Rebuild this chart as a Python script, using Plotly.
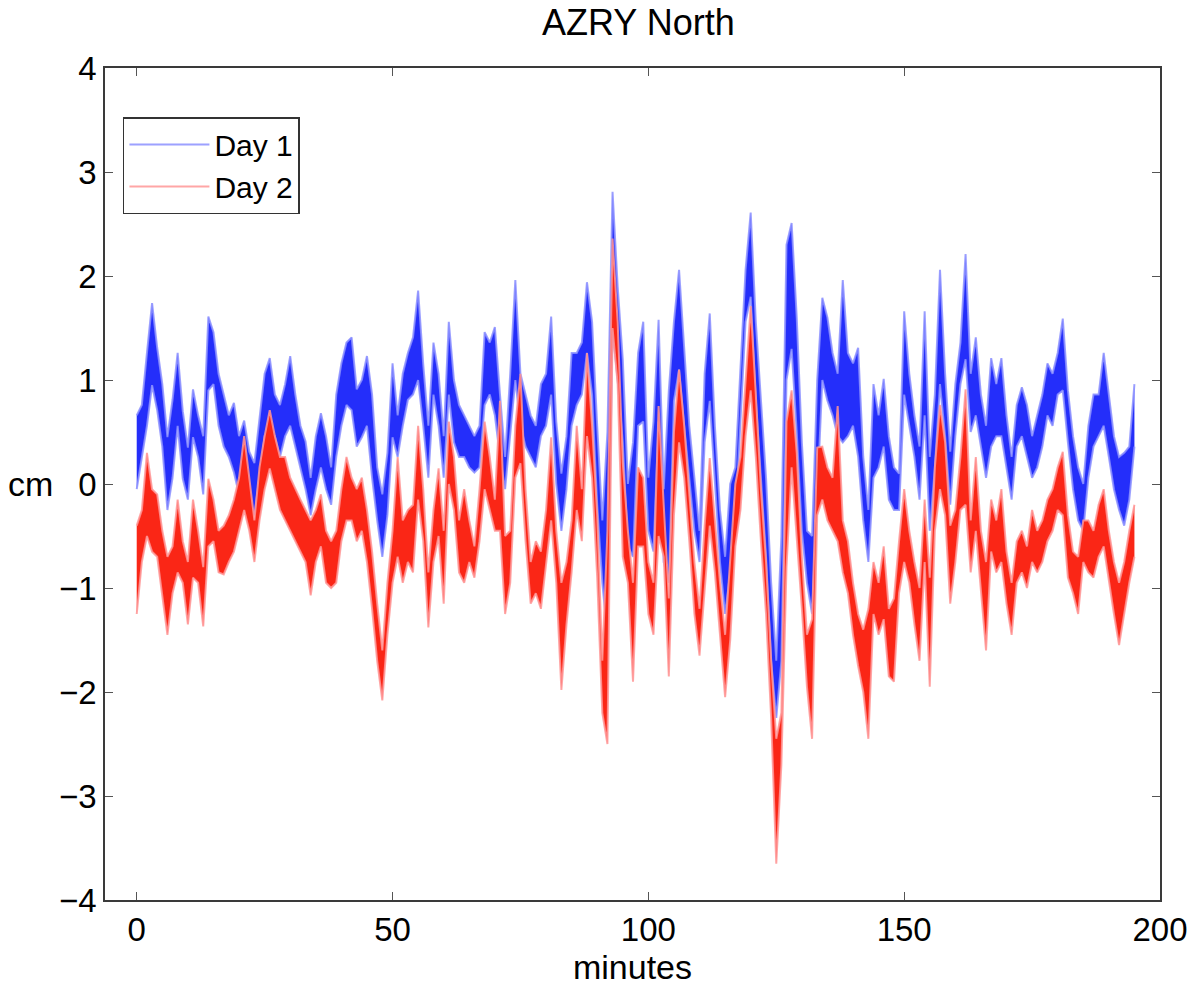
import plotly.graph_objects as go

minutes = list(range(196))

day1_hi = [0.66, 0.76, 1.26, 1.74, 1.31, 0.96, 0.45, 0.81, 1.26, 0.70,
           0.35, 0.91, 0.66, 0.46, 1.61, 1.46, 1.06, 0.86, 0.66, 0.78,
           0.46, 0.61, 0.31, 0.20, 0.66, 1.06, 1.21, 0.86, 0.76, 0.96,
           1.23, 0.86, 0.56, 0.41, 0.06, 0.46, 0.68, 0.46, 0.16, 0.86,
           1.16, 1.36, 1.41, 0.91, 1.00, 1.23, 0.86, 0.16, -0.10, 0.30,
           1.16, 0.66, 1.06, 1.26, 1.41, 1.86, 1.15, 0.56, 1.36, 1.06,
           0.46, 1.56, 1.00, 0.76, 0.66, 0.56, 0.46, 0.56, 1.46, 1.36,
           1.51, 0.86, 0.26, 1.06, 1.96, 1.06, 0.86, 0.66, 0.56, 0.96,
           1.06, 1.61, 0.60, 0.10, 0.46, 1.26, 1.26, 1.36, 1.94, 1.56,
           0.56, -0.35, 0.50, 2.81, 1.90, 1.20, 0.00, 0.40, 1.26, 1.56,
           0.06, 0.60, 1.58, -0.05, 0.90, 1.56, 2.06, 1.26, 0.56, 0.06,
           -0.45, 1.06, 1.64, 0.56, -0.25, -0.70, 0.00, 0.16, 1.06, 2.06,
           2.61, 1.56, 0.81, 0.06, -0.95, -1.70, -0.50, 2.30, 2.51, 1.60,
           0.40, -0.45, -0.50, 1.00, 1.79, 1.60, 1.26, 1.06, 1.96, 1.26,
           1.16, 1.31, 0.26, -0.25, 0.96, 0.66, 1.01, 0.46, 0.16, 0.10,
           1.66, 1.06, 0.66, 0.36, 1.66, 0.26, 0.86, 2.06, 1.06, 0.31,
           0.96, 1.36, 2.21, 1.06, 1.41, 0.86, 0.56, 1.21, 0.96, 1.21,
           0.66, 0.26, 0.76, 0.93, 0.76, 0.46, 0.66, 0.86, 1.16, 1.06,
           1.26, 1.59, 0.90, 0.46, 0.16, 0.00, 0.56, 0.86, 0.86, 1.26,
           0.86, 0.46, 0.26, 0.30, 0.36, 0.96]

day1_lo = [-0.05, 0.26, 0.56, 0.95, 0.71, 0.36, -0.25, 0.06, 0.56, 0.05,
           -0.15, 0.45, 0.26, -0.10, 0.90, 0.96, 0.56, 0.36, 0.26, 0.11,
           -0.10, 0.06, -0.20, -0.30, 0.06, 0.46, 0.46, 0.46, 0.26, 0.46,
           0.56, 0.36, 0.16, -0.05, -0.30, -0.05, 0.16, -0.05, -0.20, 0.26,
           0.56, 0.76, 0.71, 0.36, 0.45, 0.56, 0.06, -0.35, -0.70, -0.30,
           0.45, 0.26, 0.56, 0.81, 0.86, 1.00, 0.56, 0.06, 0.86, 0.56,
           0.06, 0.86, 0.40, 0.26, 0.26, 0.16, 0.11, 0.16, 0.76, 0.86,
           0.66, 0.26, -0.05, 0.46, 1.00, 0.56, 0.36, 0.26, 0.16, 0.46,
           0.56, 0.86, 0.00, -0.45, -0.05, 0.56, 0.76, 0.86, 1.26, 0.86,
           -0.20, -0.95, -1.45, 1.50, 1.00, 0.40, -0.60, -0.70, 0.56, 0.60,
           -0.45, -0.65, 0.60, -0.75, -0.95, 0.80, 1.10, 0.56, 0.06, -0.45,
           -0.75, 0.40, 0.80, 0.06, -0.75, -1.25, -0.85, -0.35, 0.56, 1.56,
           1.80, 0.81, 0.06, -0.70, -1.70, -2.25, -1.70, 1.00, 1.30, 0.50,
           -0.45, -0.95, -1.25, -0.20, 1.00, 0.80, 0.66, 0.46, 0.40, 0.46,
           0.56, 0.26, -0.35, -0.75, 0.06, 0.16, 0.36, -0.15, -0.25, -0.25,
           0.86, 0.56, 0.26, -0.15, 0.66, -0.45, 0.16, 0.96, 0.46, -0.20,
           0.46, 0.96, 1.20, 0.50, 0.66, 0.36, 0.06, 0.36, 0.46, 0.46,
           0.16, -0.15, 0.36, 0.46, 0.26, 0.06, 0.16, 0.36, 0.66, 0.56,
           0.86, 0.90, 0.40, -0.05, -0.35, -0.45, 0.06, 0.36, 0.46, 0.56,
           0.26, -0.05, -0.25, -0.40, -0.15, 0.36]

day2_hi = [-0.40, -0.25, 0.30, -0.05, -0.10, -0.45, -0.70, -0.60, -0.15, -0.55,
           -0.75, -0.15, -0.45, -0.80, 0.05, -0.15, -0.45, -0.40, -0.30, -0.15,
           0.06, 0.46, 0.06, -0.35, 0.16, 0.46, 0.71, 0.46, 0.26, 0.26,
           0.06, -0.05, -0.15, -0.25, -0.35, -0.25, -0.10, -0.45, -0.55, -0.45,
           -0.05, 0.26, 0.06, -0.05, 0.06, -0.25, -0.65, -1.15, -1.60, -0.95,
           -0.45, 0.26, -0.35, -0.25, -0.20, 0.56, -0.05, -0.85, -0.25, 0.15,
           -0.45, 0.60, 0.26, -0.35, -0.05, -0.35, -0.60, -0.05, 0.60, 0.26,
           -0.15, 0.80, -0.50, -0.45, 0.56, 1.06, -0.05, -0.75, -0.55, -0.65,
           -0.25, 0.45, -0.45, -0.95, -0.75, -0.35, 0.56, -0.05, 1.26, 0.56,
           -0.30, -1.70, -0.45, 2.36, 1.56, 0.20, -0.45, -0.95, 0.16, 0.06,
           -0.75, -0.95, 0.75, -0.20, -1.10, 0.50, 1.10, 0.56, -0.05, -0.75,
           -1.20, -0.40, 0.25, -0.35, -0.95, -1.45, -0.70, 0.00, 0.26, 0.96,
           1.71, 0.86, -0.05, -0.75, -1.70, -2.45, -2.20, 0.60, 0.90, 0.30,
           -0.70, -1.45, -1.30, 0.35, 0.36, 0.16, 0.06, 0.75, -0.35, -0.55,
           -0.95, -1.25, -1.40, -1.20, -0.75, -0.95, -0.60, -1.20, -1.10, -0.55,
           -0.05, -0.45, -0.75, -1.00, -0.15, -0.90, 0.16, 0.76, 0.40, -0.40,
           -0.25, 0.26, 0.91, -0.35, 0.26, -0.45, -0.75, -0.15, -0.35, -0.05,
           -0.65, -0.95, -0.55, -0.45, -0.60, -0.25, -0.45, -0.35, -0.15, -0.05,
           0.16, 0.31, -0.30, -0.65, -0.70, -0.35, -0.35, -0.45, -0.20, -0.05,
           -0.45, -0.75, -0.95, -0.75, -0.45, -0.20]

day2_lo = [-1.25, -0.75, -0.50, -0.65, -0.70, -1.10, -1.45, -1.05, -0.85, -0.95,
           -1.35, -0.90, -0.95, -1.37, -0.60, -0.55, -0.85, -0.87, -0.75, -0.65,
           -0.45, -0.25, -0.45, -0.75, -0.35, -0.05, 0.15, -0.05, -0.25, -0.35,
           -0.45, -0.55, -0.65, -0.75, -1.07, -0.75, -0.60, -0.95, -1.00, -0.95,
           -0.55, -0.35, -0.35, -0.55, -0.45, -0.75, -1.20, -1.70, -2.08, -1.45,
           -0.95, -0.70, -0.95, -0.75, -0.85, -0.15, -0.55, -1.38, -0.75, -0.50,
           -1.15, 0.00, -0.25, -0.85, -0.95, -0.75, -0.90, -0.55, -0.05, -0.25,
           -0.45, -0.45, -1.25, -0.95, 0.06, 0.20, -0.55, -1.15, -1.05, -1.20,
           -0.75, -0.35, -0.95, -1.98, -1.35, -0.85, -0.25, -0.55, 0.46, 0.06,
           -0.90, -2.20, -2.50, 1.50, 0.96, -0.70, -0.95, -1.90, -0.60, -0.60,
           -1.25, -1.45, -0.50, -0.70, -1.85, -0.30, 0.40, 0.06, -0.55, -1.25,
           -1.65, -1.00, -0.40, -0.85, -1.45, -2.05, -1.50, -0.60, -0.25, 0.46,
           0.90, 0.26, -0.55, -1.25, -2.25, -3.65, -2.70, -0.80, 0.16, -0.50,
           -1.20, -1.95, -2.45, -0.30, -0.15, -0.35, -0.45, -0.55, -0.85, -1.05,
           -1.45, -1.75, -2.00, -2.45, -1.25, -1.45, -1.30, -1.85, -1.90, -1.05,
           -0.75, -0.95, -1.35, -1.70, -0.75, -1.95, -0.45, -0.05, -0.30, -1.15,
           -0.75, -0.25, -0.20, -0.85, -0.45, -1.05, -1.60, -0.65, -0.85, -0.75,
           -1.15, -1.45, -0.95, -0.85, -1.00, -0.75, -0.85, -0.75, -0.55, -0.45,
           -0.25, -0.30, -0.90, -1.05, -1.25, -0.75, -0.85, -0.90, -0.70, -0.60,
           -0.95, -1.25, -1.55, -1.25, -0.95, -0.70]

series = [
    ("Day 1", day1_hi, day1_lo, "rgb(36,46,250)", "rgba(140,145,255,0.85)"),
    ("Day 2", day2_hi, day2_lo, "rgb(250,38,22)", "rgba(255,150,150,0.85)"),
]

FONT = "Liberation Sans, Arial, Helvetica, sans-serif"

fig = go.Figure()
for name, hi, lo, core, fringe in series:
    fig.add_trace(go.Scatter(
        x=minutes, y=hi, mode="lines", name=name,
        line=dict(color=fringe, width=2), legendgroup=name, showlegend=True))
    fig.add_trace(go.Scatter(
        x=minutes, y=lo, mode="lines", name=name,
        line=dict(color=fringe, width=2), fill="tonexty", fillcolor=core,
        legendgroup=name, showlegend=False))

axis_common = dict(
    showline=True, linecolor="#3a3a3a", linewidth=1.5, mirror="ticks",
    ticks="inside", ticklen=8, tickcolor="#555555", tickwidth=1,
    showgrid=False, zeroline=False,
    tickfont=dict(family=FONT, size=33, color="black"),
)

fig.update_layout(
    width=1200, height=987,
    margin=dict(l=105, r=31, t=68, b=87),
    paper_bgcolor="white", plot_bgcolor="white",
    title=dict(text="AZRY North", x=0.532, xref="container", y=1 - 22 / 987,
               yref="container", yanchor="middle", xanchor="center",
               font=dict(family=FONT, size=36, color="black")),
    xaxis=dict(range=[-6.2, 200], tickvals=[0, 50, 100, 150, 200],
               title=dict(text="minutes", standoff=0,
                          font=dict(family=FONT, size=34, color="black")),
               **axis_common),
    yaxis=dict(range=[-4, 4], tickvals=[-4, -3, -2, -1, 0, 1, 2, 3, 4],
               **axis_common),
    annotations=[dict(text="cm", xref="paper", yref="paper",
                      x=-0.0705, y=0.5, xanchor="center", yanchor="middle",
                      showarrow=False, font=dict(family=FONT, size=34, color="black"))],
    legend=dict(x=0.017, y=0.941, xanchor="left", yanchor="top",
                bgcolor="white", bordercolor="#333333", borderwidth=1.5,
                font=dict(family=FONT, size=30, color="black"),
                tracegroupgap=0, itemwidth=80),
    showlegend=True,
)

fig.write_html("out.html")
